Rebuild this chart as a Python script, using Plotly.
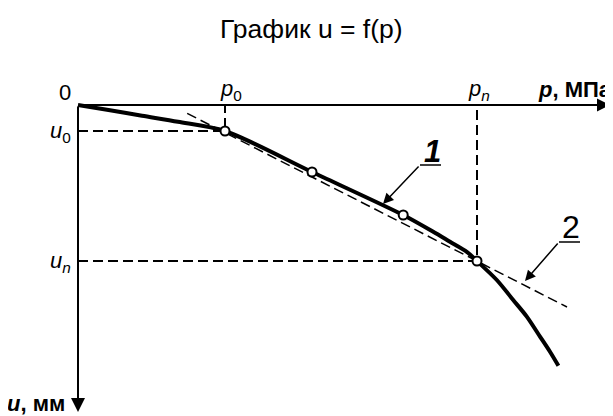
import plotly.graph_objects as go

# curve u = f(p) (p, u in arbitrary drawing units)
curve_p = [0, 0.8, 1.6, 2.5, 3.675, 5.85, 8.13, 8.88, 9.3, 9.72, 9.975, 10.47, 10.88, 11.22, 11.55, 11.8, 12.01]
curve_u = [0, 0.13, 0.27, 0.42, 0.65, 1.675, 2.75, 3.17, 3.42, 3.67, 3.9, 4.375, 4.875, 5.29, 5.79, 6.17, 6.52]

# measured points (open circles)
pts_p = [3.675, 5.85, 8.13, 9.975]
pts_u = [0.65, 1.675, 2.75, 3.9]

# straight line 2 (approximation)
line_p = [2.73, 12.225]
line_u = [0.21, 5.05]

p0, pn = 3.675, 9.975
u0, un = 0.65, 3.9
p_max, u_max = 13.3, 7.675

FONT = "Liberation Sans"
PX = 40          # pixels per drawing unit
OX, OY = 70, 97  # origin inside the figure (page adds 8px body margin)

fig = go.Figure()

# helper dashed lines
fig.add_trace(go.Scatter(x=[0, p0, p0], y=[u0, u0, 0], mode="lines",
                         line=dict(color="black", width=2, dash="10px,5px")))
fig.add_trace(go.Scatter(x=[0, pn, pn], y=[un, un, 0], mode="lines",
                         line=dict(color="black", width=2, dash="10px,5px")))

# line 2
fig.add_trace(go.Scatter(x=line_p, y=line_u, mode="lines",
                         line=dict(color="black", width=1.5, dash="10px,5px")))

# curve 1
fig.add_trace(go.Scatter(x=curve_p, y=curve_u, mode="lines",
                         line=dict(color="black", width=4, shape="spline", smoothing=0.8)))

# points
fig.add_trace(go.Scatter(x=pts_p, y=pts_u, mode="markers",
                         marker=dict(size=9, color="white", line=dict(color="black", width=2))))

ann = []
# axes with arrows
ann.append(dict(x=p_max, y=0, ax=0, ay=0, axref="x", ayref="y", xref="x", yref="y",
                text="", showarrow=True, arrowhead=2, arrowwidth=2, arrowsize=1.3,
                arrowcolor="black", standoff=0, startstandoff=0))
ann.append(dict(x=0, y=u_max, ax=0, ay=0, axref="x", ayref="y", xref="x", yref="y",
                text="", showarrow=True, arrowhead=2, arrowwidth=2, arrowsize=1.4,
                arrowcolor="black", standoff=0, startstandoff=0))

# leaders for labels 1 and 2
ann.append(dict(x=7.625, y=2.475, ax=8.55, ay=1.5, axref="x", ayref="y", xref="x", yref="y",
                text="", showarrow=True, arrowhead=2, arrowwidth=1.5, arrowsize=1.4,
                arrowcolor="black", standoff=0))
ann.append(dict(x=11.175, y=4.4, ax=12.025, ay=3.425, axref="x", ayref="y", xref="x", yref="y",
                text="", showarrow=True, arrowhead=2, arrowwidth=1.5, arrowsize=1.4,
                arrowcolor="black", standoff=0))

lbl = dict(color="black", family=FONT, size=22)
ann += [
    dict(x=0, y=0, text="0", xshift=-13, yshift=13, font=lbl, showarrow=False),
    dict(x=p0, y=0, text="<i>p</i><sub>0</sub>", xshift=6, yshift=15, font=lbl, showarrow=False),
    dict(x=pn, y=0, text="<i>p</i><sub><i>n</i></sub>", xshift=2, yshift=15, font=lbl, showarrow=False),
    dict(x=p_max, y=0, text="<b><i>p</i>, МПа</b>", xanchor="right", xshift=4, yshift=16,
         font=lbl, showarrow=False),
    dict(x=0, y=u0, text="<i>u</i><sub>0</sub>", xshift=-18, yshift=-1, font=lbl, showarrow=False),
    dict(x=0, y=un, text="<i>u</i><sub><i>n</i></sub>", xshift=-18, yshift=-1, font=lbl, showarrow=False),
    dict(x=0, y=u_max, text="<b><i>u</i>, мм</b>", xanchor="right", xshift=-11, yshift=9,
         font=lbl, showarrow=False),
    dict(x=8.85, y=1.15, text="<i><b>1</b></i>", font=dict(color="black", family=FONT, size=31),
         showarrow=False),
    dict(x=12.325, y=3.05, text="2", font=dict(color="black", family=FONT, size=32),
         showarrow=False),
    dict(x=303 / 613, y=1 - 21 / 416, xref="paper", yref="paper", text="График u = f(p)",
         xanchor="center", yanchor="middle",
         font=dict(color="black", family=FONT, size=26.5), showarrow=False),
]

shapes = [
    dict(type="line", x0=8.55, x1=9.075, y0=1.5, y1=1.5, xref="x", yref="y",
         line=dict(color="black", width=1.5)),
    dict(type="line", x0=12.025, x1=12.55, y0=3.425, y1=3.425, xref="x", yref="y",
         line=dict(color="black", width=1.5)),
]

fig.update_layout(
    width=613, height=416,
    margin=dict(l=0, r=0, t=0, b=0),
    paper_bgcolor="white", plot_bgcolor="white",
    showlegend=False,
    annotations=ann, shapes=shapes,
    xaxis=dict(range=[-OX / PX, (613 - OX) / PX], visible=False, fixedrange=True),
    yaxis=dict(range=[(416 - OY) / PX, -OY / PX], visible=False, fixedrange=True),
)

fig.write_html("out.html")
